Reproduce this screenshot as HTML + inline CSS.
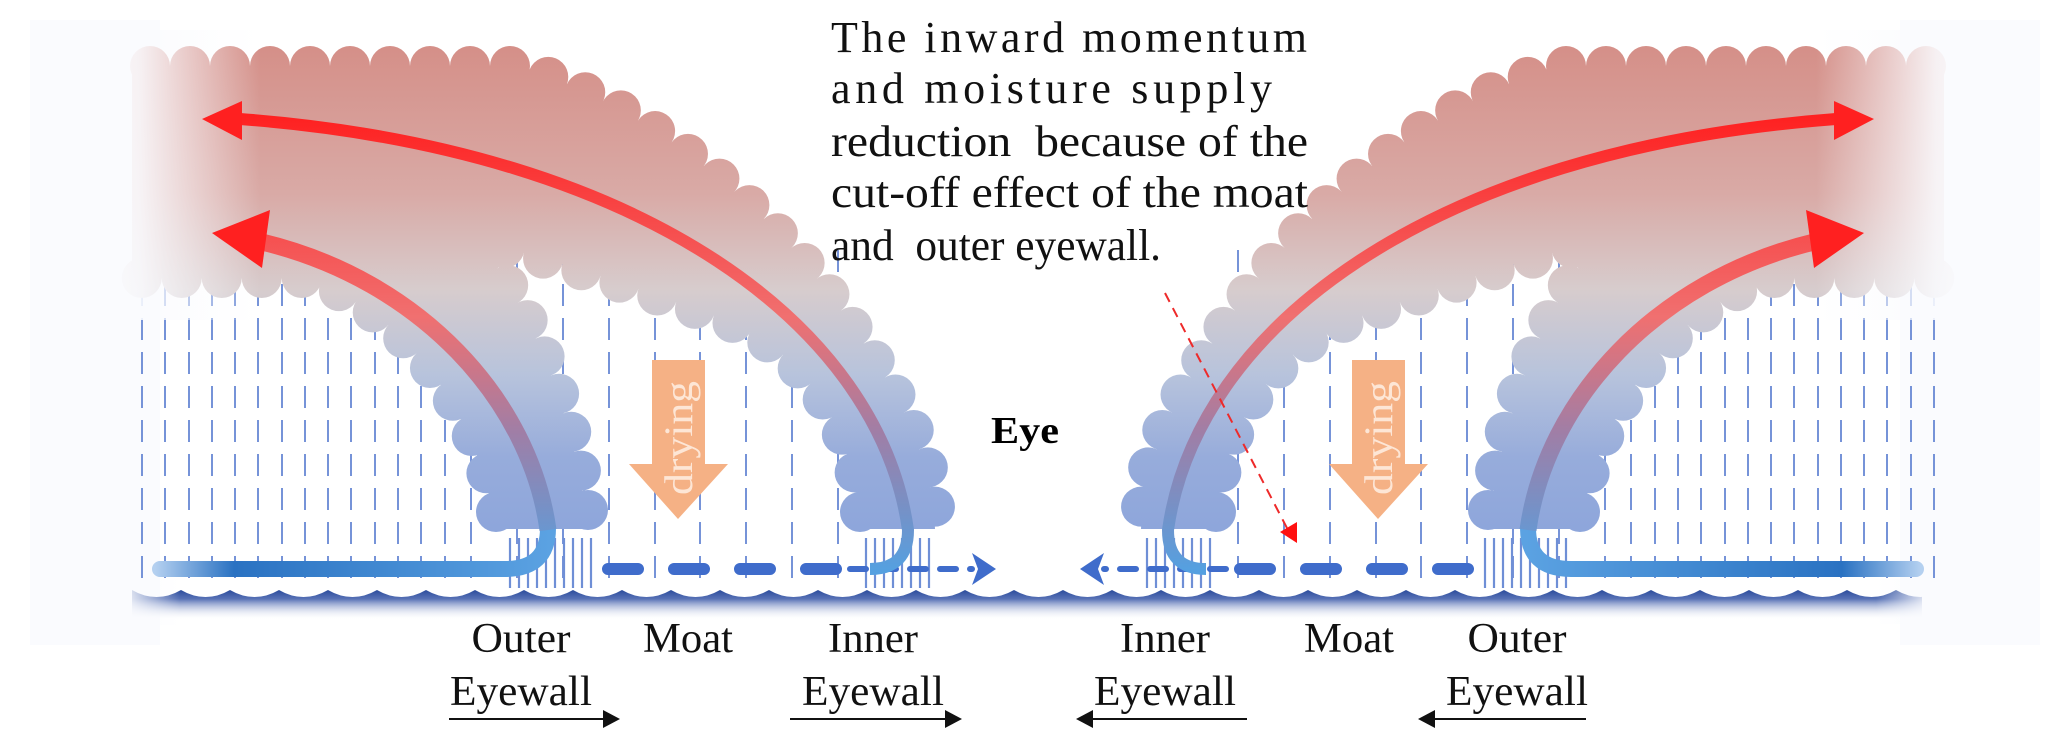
<!DOCTYPE html>
<html><head><meta charset="utf-8"><style>html,body{margin:0;padding:0;background:#fff}svg{display:block}</style></head>
<body>
<svg width="2067" height="741" viewBox="0 0 2067 741" xmlns="http://www.w3.org/2000/svg" font-family="'Liberation Serif',serif">
<defs>
  <linearGradient id="cg" gradientUnits="userSpaceOnUse" x1="0" y1="50" x2="0" y2="529">
    <stop offset="0" stop-color="#d59089"/>
    <stop offset="0.3" stop-color="#d9aaa6"/>
    <stop offset="0.5" stop-color="#d7cccd"/>
    <stop offset="0.68" stop-color="#b7c3dc"/>
    <stop offset="0.85" stop-color="#97acdb"/>
    <stop offset="1" stop-color="#8ea6db"/>
  </linearGradient>
  <linearGradient id="ag" gradientUnits="userSpaceOnUse" x1="0" y1="570" x2="0" y2="110">
    <stop offset="0" stop-color="#55a0e0"/>
    <stop offset="0.3" stop-color="#a07ea6"/>
    <stop offset="0.55" stop-color="#f07070"/>
    <stop offset="1" stop-color="#ff1e1e"/>
  </linearGradient>
  <linearGradient id="tg" gradientUnits="userSpaceOnUse" x1="155" y1="0" x2="550" y2="0">
    <stop offset="0" stop-color="#b4d0f0"/>
    <stop offset="0.2" stop-color="#2a72c2"/>
    <stop offset="1" stop-color="#5ba2e2"/>
  </linearGradient>
  <linearGradient id="fade" x1="0" y1="0" x2="1" y2="0">
    <stop offset="0" stop-color="#fafbfe" stop-opacity="1"/>
    <stop offset="0.25" stop-color="#fafbfe" stop-opacity="0.9"/>
    <stop offset="1" stop-color="#fafbfe" stop-opacity="0"/>
  </linearGradient>
  <linearGradient id="wg" x1="0" y1="0" x2="0" y2="1">
    <stop offset="0" stop-color="#2c4c9c"/>
    <stop offset="0.3" stop-color="#5872b6"/>
    <stop offset="1" stop-color="#ffffff" stop-opacity="0"/>
  </linearGradient>
  <pattern id="wave" patternUnits="userSpaceOnUse" x="132" y="586" width="49" height="34">
    <path d="M0,4 Q12,11 24.5,11 Q37,11 49,4 L49,34 L0,34 Z" fill="url(#wg)"/>
  </pattern>
  <g id="side">
    <g stroke="#7693d8" stroke-width="2" stroke-dasharray="22 12">
      <line x1="142" y1="250" x2="142" y2="590"/><line x1="165" y1="250" x2="165" y2="590"/>
      <line x1="189" y1="250" x2="189" y2="590"/><line x1="212" y1="250" x2="212" y2="590"/>
      <line x1="235" y1="250" x2="235" y2="590"/><line x1="258" y1="250" x2="258" y2="590"/>
      <line x1="282" y1="250" x2="282" y2="590"/><line x1="305" y1="250" x2="305" y2="590"/>
      <line x1="328" y1="250" x2="328" y2="590"/><line x1="351" y1="250" x2="351" y2="590"/>
      <line x1="375" y1="250" x2="375" y2="590"/><line x1="398" y1="250" x2="398" y2="590"/>
      <line x1="421" y1="250" x2="421" y2="590"/><line x1="445" y1="250" x2="445" y2="590"/>
      <line x1="471" y1="250" x2="471" y2="590"/>
      <line x1="517" y1="250" x2="517" y2="588"/><line x1="563" y1="250" x2="563" y2="588"/>
      <line x1="609" y1="250" x2="609" y2="588"/><line x1="655" y1="250" x2="655" y2="588"/>
      <line x1="700" y1="250" x2="700" y2="588"/><line x1="746" y1="250" x2="746" y2="588"/>
      <line x1="792" y1="250" x2="792" y2="588"/><line x1="838" y1="250" x2="838" y2="588"/>
    </g>
    <g stroke="#6f8fd6" stroke-width="2.2">
      <line x1="510" y1="538" x2="510" y2="588"/><line x1="519" y1="538" x2="519" y2="588"/>
      <line x1="528" y1="538" x2="528" y2="588"/><line x1="537" y1="538" x2="537" y2="588"/>
      <line x1="546" y1="538" x2="546" y2="588"/><line x1="555" y1="538" x2="555" y2="588"/>
      <line x1="564" y1="538" x2="564" y2="588"/><line x1="573" y1="538" x2="573" y2="588"/>
      <line x1="582" y1="538" x2="582" y2="588"/><line x1="591" y1="538" x2="591" y2="588"/>
      <line x1="866" y1="538" x2="866" y2="588"/><line x1="875" y1="538" x2="875" y2="588"/>
      <line x1="884" y1="538" x2="884" y2="588"/><line x1="893" y1="538" x2="893" y2="588"/>
      <line x1="902" y1="538" x2="902" y2="588"/><line x1="911" y1="538" x2="911" y2="588"/>
      <line x1="920" y1="538" x2="920" y2="588"/><line x1="929" y1="538" x2="929" y2="588"/>
    </g>
    <path d="M132,66 L514,66 C640,100 760,200 830,295 C895,385 932,450 935,529 L860,529 C858,440 810,350 720,318 C630,285 540,255 478,242 C525,300 572,400 588,529 L496,529 C482,430 420,320 310,278 L132,278 Z" fill="url(#cg)"/>
    <path d="M150,66 L514,66 C640,100 760,200 830,295 C895,385 932,450 935,508 M860,512 C858,440 810,350 720,318 C630,285 540,255 478,242 C525,300 572,400 588,510 M496,512 C482,430 420,320 310,278 L140,278" fill="none" stroke="url(#cg)" stroke-width="40" stroke-linecap="round" stroke-dasharray="0 40"/>
    <rect x="100" y="30" width="160" height="290" fill="url(#fade)"/>
    <path d="M160,569 L505,569 Q548,569 548,528" fill="none" stroke="url(#tg)" stroke-width="16" stroke-linecap="round"/>
    <line x1="608" y1="569" x2="840" y2="569" stroke="#3f6ccb" stroke-width="12" stroke-linecap="round" stroke-dasharray="30 36"/>
    <line x1="850" y1="569" x2="972" y2="569" stroke="#3f6ccb" stroke-width="6" stroke-linecap="round" stroke-dasharray="16 14"/>
    <polygon points="972,553 996,569 972,585 978,569" fill="#3f6ccb"/>
    <path d="M548,530 C530,400 420,280 262,242" fill="none" stroke="url(#ag)" stroke-width="17"/>
    <polygon points="212,233 270,210 262,268" fill="#ff2020"/>
    <path d="M870,569 Q908,569 908,530 C880,330 650,150 240,119" fill="none" stroke="url(#ag)" stroke-width="12"/>
    <polygon points="202,119 242,101 242,140" fill="#ff2020"/>
  </g>
</defs>
<rect x="30" y="20" width="130" height="625" fill="#fafbfe"/>
<rect x="1900" y="20" width="140" height="625" fill="#fafbfe"/>
<use href="#side"/>
<use href="#side" transform="translate(2076,0) scale(-1,1)"/>
<rect x="132" y="586" width="1790" height="34" fill="url(#wave)"/>
<rect x="110" y="580" width="70" height="45" fill="url(#fade)"/>
<rect x="1876" y="580" width="70" height="45" fill="url(#fade)" transform="rotate(180 1911 602)"/>
<g fill="#f5b185">
  <rect x="652" y="360" width="53" height="105"/><polygon points="629,464 728,464 678,519"/>
  <rect x="1352" y="360" width="53" height="105"/><polygon points="1329,464 1428,464 1378,519"/>
</g>
<g fill="#fde6d6" font-size="40">
  <text transform="translate(692,438) rotate(-90)" text-anchor="middle" textLength="114" lengthAdjust="spacingAndGlyphs">drying</text>
  <text transform="translate(1392,438) rotate(-90)" text-anchor="middle" textLength="114" lengthAdjust="spacingAndGlyphs">drying</text>
</g>
<line x1="1165" y1="293" x2="1288" y2="530" stroke="#ee2a2a" stroke-width="2" stroke-dasharray="10 7"/>
<polygon points="1280,532 1297,522 1297,543" fill="#ff1010"/>
<g font-size="44" fill="#111">
  <text x="831" y="52" textLength="476" lengthAdjust="spacing">The inward momentum</text>
  <text x="831" y="103" textLength="441" lengthAdjust="spacing">and moisture supply</text>
  <text x="831" y="156" textLength="477" lengthAdjust="spacingAndGlyphs" xml:space="preserve">reduction  because of the</text>
  <text x="831" y="207" textLength="477" lengthAdjust="spacingAndGlyphs">cut-off effect of the moat</text>
  <text x="831" y="260" textLength="330" lengthAdjust="spacingAndGlyphs" xml:space="preserve">and  outer eyewall.</text>
</g>
<text x="991" y="443" font-size="38" font-weight="bold" textLength="68" lengthAdjust="spacingAndGlyphs">Eye</text>
<g font-size="42" fill="#111" text-anchor="middle">
  <text x="521" y="652" textLength="99" lengthAdjust="spacingAndGlyphs">Outer</text>
  <text x="521" y="705" textLength="142" lengthAdjust="spacingAndGlyphs">Eyewall</text>
  <text x="688" y="652" textLength="90" lengthAdjust="spacingAndGlyphs">Moat</text>
  <text x="873" y="652" textLength="90" lengthAdjust="spacingAndGlyphs">Inner</text>
  <text x="873" y="705" textLength="142" lengthAdjust="spacingAndGlyphs">Eyewall</text>
  <text x="1165" y="652" textLength="90" lengthAdjust="spacingAndGlyphs">Inner</text>
  <text x="1165" y="705" textLength="142" lengthAdjust="spacingAndGlyphs">Eyewall</text>
  <text x="1349" y="652" textLength="90" lengthAdjust="spacingAndGlyphs">Moat</text>
  <text x="1517" y="652" textLength="99" lengthAdjust="spacingAndGlyphs">Outer</text>
  <text x="1517" y="705" textLength="142" lengthAdjust="spacingAndGlyphs">Eyewall</text>
</g>
<g stroke="#111" stroke-width="2">
  <line x1="449" y1="719" x2="605" y2="719"/><line x1="790" y1="719" x2="945" y2="719"/>
  <line x1="1092" y1="719" x2="1247" y2="719"/><line x1="1433" y1="719" x2="1586" y2="719"/>
</g>
<g fill="#111">
  <polygon points="620,719 603,710 603,728"/><polygon points="962,719 945,710 945,728"/>
  <polygon points="1076,719 1093,710 1093,728"/><polygon points="1418,719 1435,710 1435,728"/>
</g>
</svg>
</body></html>
